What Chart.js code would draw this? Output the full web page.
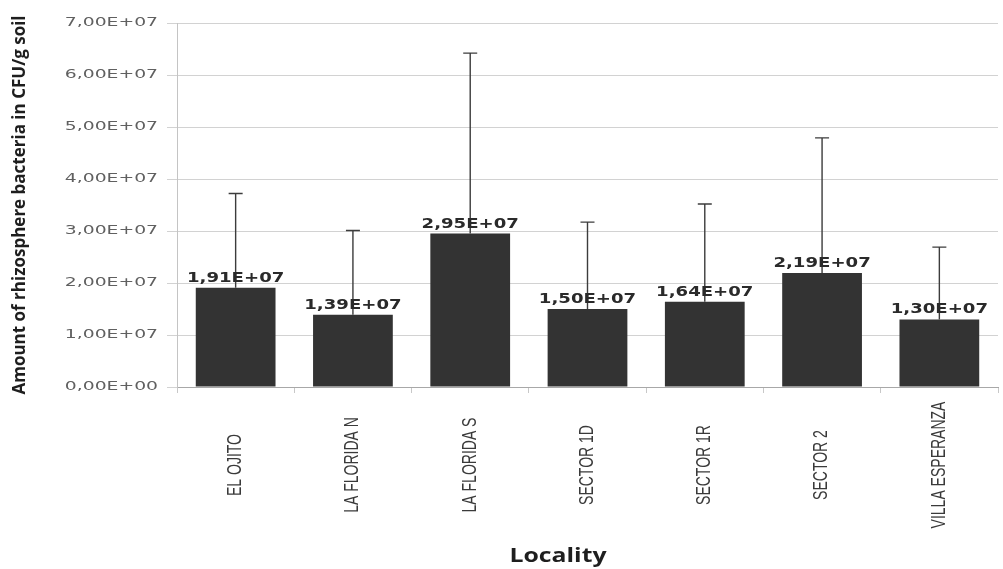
<!DOCTYPE html>
<html>
<head>
<meta charset="utf-8">
<script src="https://cdn.jsdelivr.net/npm/chart.js@4"></script>
<style>
  html, body { margin: 0; padding: 0; background: #fff; }
  #wrap { width: 1003px; height: 569px; }
</style>
</head>
<body>
<div id="wrap"><canvas id="cfuChart"></canvas></div>
<script>
// values
const localities = ['EL OJITO', 'LA FLORIDA N', 'LA FLORIDA S', 'SECTOR 1D', 'SECTOR 1R', 'SECTOR 2', 'VILLA ESPERANZA'];
const meanCfu = [1.91e7, 1.39e7, 2.95e7, 1.50e7, 1.64e7, 2.19e7, 1.30e7];
const errorPlus = [1.81e7, 1.62e7, 3.47e7, 1.67e7, 1.88e7, 2.60e7, 1.39e7]; // upper error bar length
const yTicks = [0, 1e7, 2e7, 3e7, 4e7, 5e7, 6e7, 7e7];
const xTitle = 'Locality';
const yTitle = 'Amount of rhizosphere bacteria in CFU/g soil';

// 19100000 -> "1,91E+07"
const sci = (v) => {
  if (v === 0) return '0,00E+00';
  const exp = Math.floor(Math.log10(Math.abs(v)));
  const mant = (v / Math.pow(10, exp)).toFixed(2).replace('.', ',');
  return mant + 'E+' + String(exp).padStart(2, '0');
};

// the original figure is stretched sideways, so text is drawn with a x-scale
const wideText = (ctx, txt, x, y, sx, rot) => {
  ctx.save();
  ctx.translate(x, y);
  ctx.scale(sx, 1);
  if (rot) ctx.rotate(rot);
  ctx.fillText(txt, 0, 0);
  ctx.restore();
};

const errorBars = {
  id: 'errorBars',
  afterDatasetsDraw(chart) {
    const { ctx, scales } = chart;
    const meta = chart.getDatasetMeta(0);
    ctx.save();
    ctx.strokeStyle = '#3c3c3c';
    ctx.lineWidth = 1.4;
    meta.data.forEach((bar, i) => {
      const top = scales.y.getPixelForValue(meanCfu[i] + errorPlus[i]);
      ctx.beginPath();
      ctx.moveTo(bar.x, bar.y);
      ctx.lineTo(bar.x, top);
      ctx.moveTo(bar.x - 7, top);
      ctx.lineTo(bar.x + 7, top);
      ctx.stroke();
    });
    // value labels on top of the bars
    ctx.fillStyle = '#2a2a2a';
    ctx.font = 'bold 13.5px "DejaVu Sans"';
    ctx.textAlign = 'center';
    ctx.textBaseline = 'alphabetic';
    meta.data.forEach((bar, i) => {
      wideText(ctx, sci(meanCfu[i]), bar.x, bar.y - 6, 1.34);
    });
    ctx.restore();
  }
};

// tick labels and x title drawn by hand (stretched, labels centred under axis)
const axisText = {
  id: 'axisText',
  afterDraw(chart) {
    const { ctx, scales } = chart;
    const xs = scales.x, ys = scales.y;
    ctx.save();
    ctx.fillStyle = '#606060';
    ctx.font = '12.5px "DejaVu Sans"';
    ctx.textAlign = 'right';
    ctx.textBaseline = 'middle';
    yTicks.forEach(v => {
      wideText(ctx, sci(v), ys.left + ys.width - 19, ys.getPixelForValue(v), 1.5);
    });

    ctx.fillStyle = '#3a3a3a';
    ctx.font = '14px "Liberation Sans"';
    ctx.textAlign = 'center';
    ctx.textBaseline = 'middle';
    localities.forEach((lab, i) => {
      wideText(ctx, lab, xs.getPixelForTick(i), 465, 1.4, -Math.PI / 2);
    });

    ctx.fillStyle = '#1e1e1e';
    ctx.font = 'bold 20px "Open Sans"';
    wideText(ctx, xTitle, 558, 556, 1.24);
    ctx.restore();
  }
};

new Chart(document.getElementById('cfuChart'), {
  type: 'bar',
  data: {
    labels: localities,
    datasets: [{
      data: meanCfu,
      backgroundColor: '#333333',
      borderWidth: 0,
      barPercentage: 0.68,
      categoryPercentage: 1.0
    }]
  },
  options: {
    responsive: true,
    maintainAspectRatio: false,
    animation: false,
    layout: { padding: { top: 23, right: 5, bottom: 0, left: 4 } },
    plugins: {
      legend: { display: false },
      tooltip: { enabled: false }
    },
    scales: {
      x: {
        offset: true,
        grid: { display: true, drawOnChartArea: false, offset: true, color: '#c8c8c8', tickLength: 6 },
        border: { color: '#a8a8a8' },
        ticks: { display: false },
        afterFit(scale) { scale.height = 182; }
      },
      y: {
        min: 0,
        max: 7e7,
        afterBuildTicks(scale) {
          scale.ticks = yTicks.map(v => ({ value: v }));
        },
        grid: { color: '#d2d2d2', tickLength: 10 },
        border: { color: '#c4c4c4' },
        ticks: { color: 'transparent', font: { family: 'DejaVu Sans', size: 12 } },
        title: {
          display: true,
          text: yTitle,
          color: '#1e1e1e',
          font: { family: 'Open Sans', weight: 'bold', size: 17 },
          padding: { top: 6, bottom: 0 }
        },
        afterFit(scale) { scale.width = 173; }
      }
    }
  },
  plugins: [errorBars, axisText]
});
</script>
</body>
</html>
